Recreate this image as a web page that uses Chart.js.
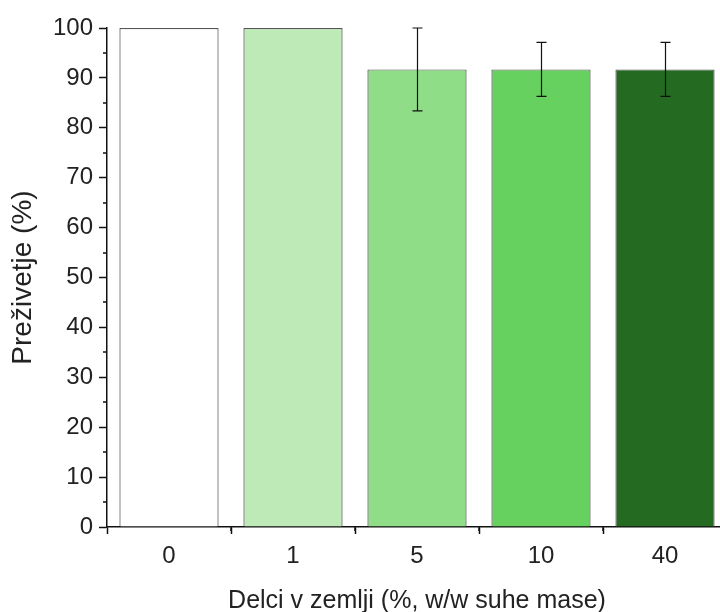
<!DOCTYPE html>
<html>
<head>
<meta charset="utf-8">
<script src="https://cdn.jsdelivr.net/npm/chart.js@4/dist/chart.umd.min.js"></script>
<style>
  html, body { margin: 0; padding: 0; background: #fff; overflow: hidden; }
  #wrap { width: 720px; height: 612px; overflow: hidden; position: relative; }
  #c { position: absolute; left: 0; top: 0; }
</style>
</head>
<body>
<div id="wrap"><canvas id="c" width="730" height="612"></canvas></div>
<script>
// Particle content in soil (% w/w dry mass)
const categories = ['0', '1', '5', '10', '40'];
// Survival (%) and standard deviation
const survival = [100, 100, 91.7, 91.7, 91.7];
const sd = [0, 0, 8.3, 5.4, 5.4];
const barColors = ['#ffffff', '#bdeab6', '#90dd88', '#66d15f', '#246b21'];
const yTicks = [0, 10, 20, 30, 40, 50, 60, 70, 80, 90, 100];

const FONT = 'Liberation Sans, Arial, sans-serif';
const TEXT = '#222';

const errorBars = {
  id: 'errorBars',
  afterDatasetsDraw(chart) {
    const { ctx, scales: { x, y } } = chart;
    ctx.save();
    ctx.strokeStyle = '#111';
    ctx.lineWidth = 1.2;
    survival.forEach((v, i) => {
      if (!sd[i]) return;
      const px = Math.round(x.getPixelForValue(i)) + 0.5;
      const top = y.getPixelForValue(v + sd[i]);
      const bot = y.getPixelForValue(v - sd[i]);
      ctx.beginPath();
      ctx.moveTo(px, top); ctx.lineTo(px, bot);
      ctx.moveTo(px - 5, top); ctx.lineTo(px + 5, top);
      ctx.moveTo(px - 5, bot); ctx.lineTo(px + 5, bot);
      ctx.stroke();
    });
    ctx.restore();
  }
};

// minor ticks: every 5 on the y axis, between categories on the x axis
const minorTicks = {
  id: 'minorTicks',
  afterDraw(chart) {
    const { ctx, scales: { x, y } } = chart;
    ctx.save();
    ctx.strokeStyle = '#111';
    ctx.lineWidth = 1.5;
    ctx.beginPath();
    for (let v = 5; v < 100; v += 10) {
      const py = Math.round(y.getPixelForValue(v));
      ctx.moveTo(x.left, py); ctx.lineTo(x.left - 4, py);
    }
    for (let i = 0; i < categories.length; i++) {
      const px = Math.round(x.getPixelForValue(i + 0.5));
      ctx.moveTo(px, y.bottom); ctx.lineTo(px, y.bottom + 4);
    }
    ctx.stroke();
    ctx.restore();
  }
};

new Chart(document.getElementById('c'), {
  type: 'bar',
  data: {
    labels: categories,
    datasets: [{
      data: survival,
      backgroundColor: barColors,
      borderColor: '#555',
      borderWidth: 1.2,
      barPercentage: 0.8,
      categoryPercentage: 1.0
    }]
  },
  options: {
    responsive: false,
    animation: false,
    layout: { padding: { top: 28, right: 3, left: 0, bottom: 0 } },
    plugins: { legend: { display: false }, tooltip: { enabled: false } },
    scales: {
      x: {
        grid: { drawOnChartArea: false, drawTicks: true, tickLength: 7, tickColor: '#111', tickWidth: 1.5 },
        border: { display: true, color: '#111', width: 1.5 },
        ticks: { color: TEXT, font: { family: FONT, size: 24 }, padding: 8, maxRotation: 0 },
        title: { display: true, text: 'Delci v zemlji (%, w/w suhe mase)', color: TEXT,
                 font: { family: FONT, size: 25 }, padding: { top: 0, bottom: -4 } },
        afterFit(s) { s.height = 85; }
      },
      y: {
        min: 0, max: 100,
        afterBuildTicks(s) { s.ticks = yTicks.map(v => ({ value: v })); },
        grid: { drawOnChartArea: false, drawTicks: true, tickLength: 8, tickColor: '#111', tickWidth: 1.5 },
        border: { display: true, color: '#111', width: 1.5 },
        ticks: { color: TEXT, font: { family: FONT, size: 24 }, padding: 6 },
        title: { display: true, text: 'Preživetje (%)', color: TEXT,
                 font: { family: FONT, size: 28 }, padding: { top: 6, bottom: 0 } },
        afterFit(s) { s.width = 107; }
      }
    }
  },
  plugins: [errorBars, minorTicks]
});
</script>
</body>
</html>
